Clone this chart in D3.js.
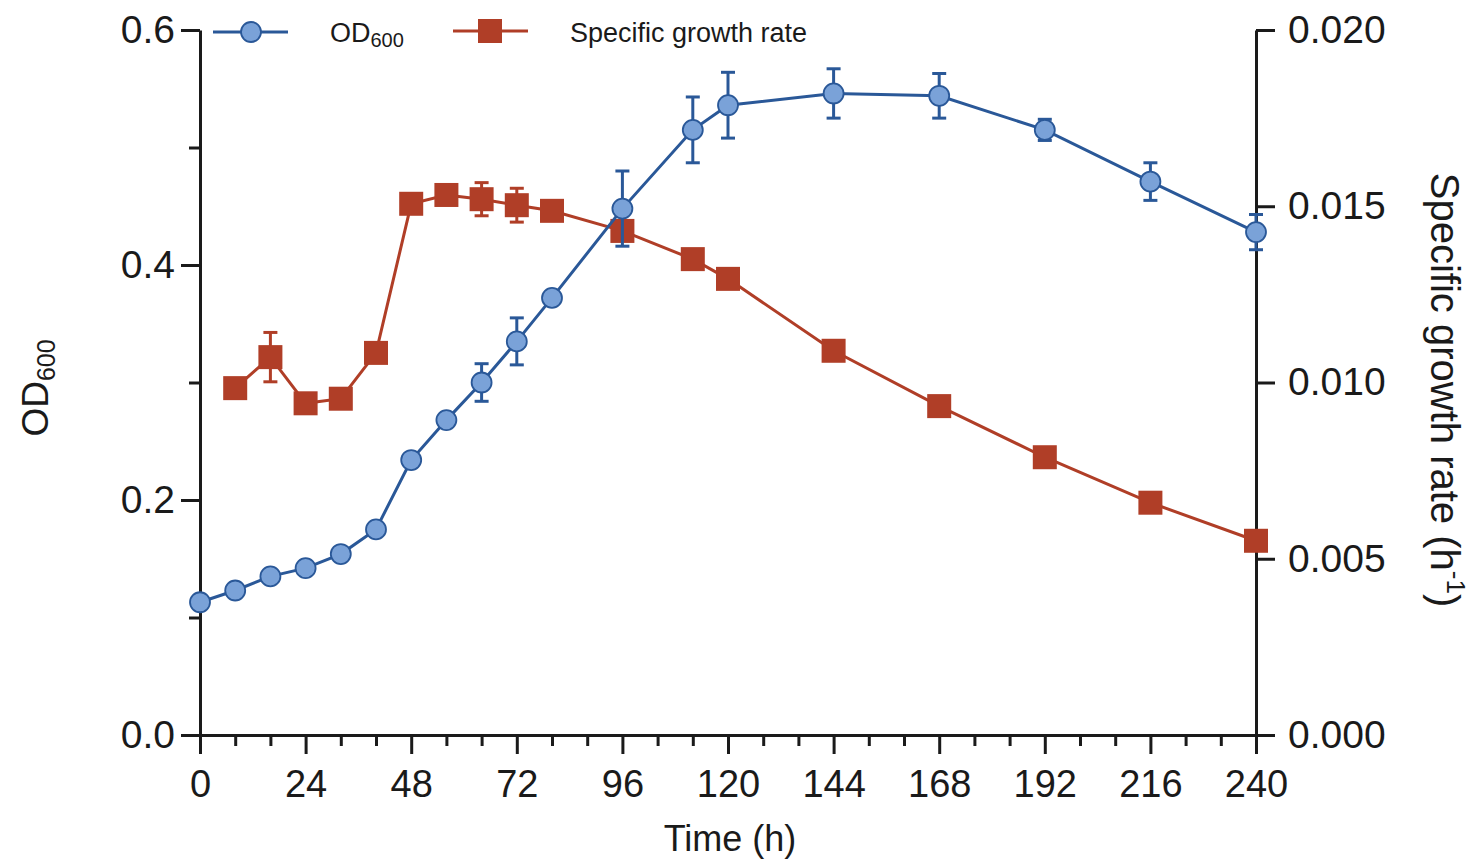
<!DOCTYPE html>
<html><head><meta charset="utf-8">
<script src="https://cdn.jsdelivr.net/npm/d3@7"></script>
<style>
body{margin:0;background:#fff}
svg{display:block}
text{font-family:"Liberation Sans",Arial,Helvetica,sans-serif;fill:#1a1a1a}
</style>
</head><body>
<svg id="c" width="1475" height="861"></svg>
<script>
// ---- data ----
const timeOD = [0, 8, 16, 24, 32, 40, 48, 56, 64, 72, 80, 96, 112, 120, 144, 168, 192, 216, 240];
const od600 = [0.113, 0.123, 0.135, 0.142, 0.154, 0.175, 0.234, 0.268, 0.300, 0.335, 0.372, 0.448, 0.515, 0.536, 0.546, 0.544, 0.515, 0.471, 0.428];
const odErr = [0, 0, 0, 0, 0, 0, 0, 0, 0.016, 0.020, 0, 0.032, 0.028, 0.028, 0.021, 0.019, 0.009, 0.016, 0.015];

const timeGR = [8, 16, 24, 32, 40, 48, 56, 64, 72, 80, 96, 112, 120, 144, 168, 192, 216, 240];
const growthRate = [0.00984, 0.01072, 0.00941, 0.00954, 0.01084, 0.01507, 0.01532, 0.01520, 0.01503, 0.01487, 0.01430, 0.01350, 0.01294, 0.01090, 0.00933, 0.00788, 0.00659, 0.00551];
const grErr = [0, 0.0007, 0, 0, 0, 0, 0, 0.00047, 0.00048, 0, 0, 0, 0, 0, 0, 0, 0, 0];

const xMajorTicks = [0, 24, 48, 72, 96, 120, 144, 168, 192, 216, 240];
const xMinorTicks = [8, 16, 32, 40, 56, 64, 80, 88, 104, 112, 128, 136, 152, 160, 176, 184, 200, 208, 224, 232];
const yLeftTicks = [0, 0.2, 0.4, 0.6];
const yLeftMinor = [0.1, 0.3, 0.5];
const yRightTicks = [0, 0.005, 0.010, 0.015, 0.020];

const seriesNames = ["OD", "600", "Specific growth rate"];

// ---- styles ----
const FONT = '"Liberation Sans",Arial,Helvetica,sans-serif';
const ink = "#1a1a1a";
const blue = "#2a5898";
const blueFill = "#7aa2d8";
const red = "#b03e27";

const svg = d3.select("#c");
const x = d3.scaleLinear().domain([0, 240]).range([200, 1256]);
const yL = d3.scaleLinear().domain([0, 0.6]).range([735, 30]);
const yR = d3.scaleLinear().domain([0, 0.02]).range([735, 30]);

function styleAxis(g, fs) {
  g.attr("font-family", FONT).attr("font-size", fs);
  g.select(".domain").attr("stroke", ink).attr("stroke-width", 3);
  g.selectAll(".tick line").attr("stroke", ink).attr("stroke-width", 3);
  g.selectAll(".tick text").attr("fill", ink);
}

// x axis
const gx = svg.append("g").attr("transform", "translate(0,735)")
  .call(d3.axisBottom(x).tickValues(xMajorTicks).tickSize(19).tickPadding(16).tickSizeOuter(0).tickFormat(d3.format("d")));
styleAxis(gx, 38);
const gxm = svg.append("g").attr("transform", "translate(0,735)")
  .call(d3.axisBottom(x).tickValues(xMinorTicks).tickSize(11).tickSizeOuter(0).tickFormat(""));
styleAxis(gxm, 38); gxm.select(".domain").remove();

// left axis
const gl = svg.append("g").attr("transform", "translate(200,0)")
  .call(d3.axisLeft(yL).tickValues(yLeftTicks).tickSize(19).tickPadding(6).tickSizeOuter(0).tickFormat(d3.format(".1f")));
styleAxis(gl, 39);
const glm = svg.append("g").attr("transform", "translate(200,0)")
  .call(d3.axisLeft(yL).tickValues(yLeftMinor).tickSize(11).tickSizeOuter(0).tickFormat(""));
styleAxis(glm, 39); glm.select(".domain").remove();

// right axis
const gr = svg.append("g").attr("transform", "translate(1256,0)")
  .call(d3.axisRight(yR).tickValues(yRightTicks).tickSize(19).tickPadding(13).tickSizeOuter(0).tickFormat(d3.format(".3f")));
styleAxis(gr, 39);

// axis titles
svg.append("text").attr("x", 730).attr("y", 851).attr("text-anchor", "middle")
  .attr("font-size", 36).text("Time (h)");

const lt = svg.append("text").attr("transform", "translate(48,388) rotate(-90)")
  .attr("text-anchor", "middle").attr("font-size", 37);
lt.append("tspan").text(seriesNames[0]);
lt.append("tspan").attr("font-size", 25).attr("dy", 7).text(seriesNames[1]);

const rt = svg.append("text").attr("transform", "translate(1431,390) rotate(90)")
  .attr("text-anchor", "middle").attr("font-size", 40);
rt.append("tspan").text(seriesNames[2] + " (h");
rt.append("tspan").attr("font-size", 26).attr("dy", -16).text("-1");
rt.append("tspan").attr("dy", 16).text(")");

// ---- series ----
const grData = timeGR.map((t, i) => ({t, v: growthRate[i], e: grErr[i]}));
const odData = timeOD.map((t, i) => ({t, v: od600[i], e: odErr[i]}));

function errorBars(data, y, color) {
  const g = svg.append("g").attr("stroke", color).attr("stroke-width", 3).attr("fill", "none");
  data.filter(d => d.e > 0).forEach(d => {
    const cx = x(d.t), y1 = y(d.v + d.e), y2 = y(d.v - d.e);
    g.append("line").attr("x1", cx).attr("x2", cx).attr("y1", y1).attr("y2", y2);
    g.append("line").attr("x1", cx - 7).attr("x2", cx + 7).attr("y1", y1).attr("y2", y1);
    g.append("line").attr("x1", cx - 7).attr("x2", cx + 7).attr("y1", y2).attr("y2", y2);
  });
}

// red series
svg.append("path").datum(grData)
  .attr("d", d3.line().x(d => x(d.t)).y(d => yR(d.v)))
  .attr("fill", "none").attr("stroke", red).attr("stroke-width", 3);
errorBars(grData, yR, red);
const SQ = 24;
svg.append("g").selectAll("rect").data(grData).join("rect")
  .attr("x", d => x(d.t) - SQ / 2).attr("y", d => yR(d.v) - SQ / 2)
  .attr("width", SQ).attr("height", SQ).attr("fill", red);

// blue series
svg.append("path").datum(odData)
  .attr("d", d3.line().x(d => x(d.t)).y(d => yL(d.v)))
  .attr("fill", "none").attr("stroke", blue).attr("stroke-width", 3);
errorBars(odData, yL, blue);
svg.append("g").selectAll("circle").data(odData).join("circle")
  .attr("cx", d => x(d.t)).attr("cy", d => yL(d.v)).attr("r", 10)
  .attr("fill", blueFill).attr("stroke", blue).attr("stroke-width", 1.8);

// ---- legend ----
const leg = svg.append("g");
leg.append("line").attr("x1", 213).attr("x2", 288).attr("y1", 32).attr("y2", 32)
  .attr("stroke", blue).attr("stroke-width", 3);
leg.append("circle").attr("cx", 251).attr("cy", 32).attr("r", 10)
  .attr("fill", blueFill).attr("stroke", blue).attr("stroke-width", 1.8);
const l1 = leg.append("text").attr("x", 330).attr("y", 42).attr("font-size", 27);
l1.append("tspan").text(seriesNames[0]);
l1.append("tspan").attr("font-size", 20).attr("dy", 5).text(seriesNames[1]);

leg.append("line").attr("x1", 453).attr("x2", 528).attr("y1", 31).attr("y2", 31)
  .attr("stroke", red).attr("stroke-width", 3);
leg.append("rect").attr("x", 490 - SQ / 2).attr("y", 31 - SQ / 2).attr("width", SQ).attr("height", SQ).attr("fill", red);
leg.append("text").attr("x", 570).attr("y", 42).attr("font-size", 27).text(seriesNames[2]);
</script>
</body></html>
